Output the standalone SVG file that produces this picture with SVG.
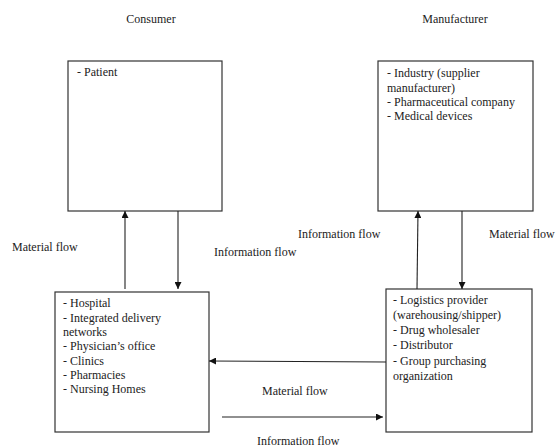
<svg xmlns="http://www.w3.org/2000/svg" width="559" height="448" viewBox="0 0 559 448">
<style>
text{font-family:"Liberation Serif","Times New Roman",serif;font-size:12px;fill:#222}
.box{fill:#fff;stroke:#333;stroke-width:1.2}
.ln{stroke:#222;stroke-width:1.1;fill:none;marker-end:url(#ah)}
</style>
<defs>
<marker id="ah" viewBox="0 0 10 10" refX="10" refY="5" markerWidth="7" markerHeight="7" markerUnits="userSpaceOnUse" orient="auto">
<path d="M0,0L10,5L0,10z" fill="#111"/>
</marker>
</defs>
<rect width="559" height="448" fill="#fff"/>
<text x="151" y="23" text-anchor="middle">Consumer</text>
<text x="455" y="23" text-anchor="middle">Manufacturer</text>
<g id="patient">
<rect class="box" x="68" y="61" width="154" height="150"/>
<text x="77" y="76">- Patient</text>
</g>
<g id="manufacturer">
<rect class="box" x="378" y="61" width="155" height="150"/>
<text x="387" y="77">- Industry (supplier</text>
<text x="387" y="91.5">manufacturer)</text>
<text x="387" y="106">- Pharmaceutical company</text>
<text x="387" y="120">- Medical devices</text>
</g>
<g id="providers">
<rect class="box" x="55" y="292" width="154" height="140"/>
<text x="63" y="307">- Hospital</text>
<text x="63" y="321.5">- Integrated delivery</text>
<text x="63" y="336">networks</text>
<text x="63" y="350">- Physician’s office</text>
<text x="63" y="364.5">- Clinics</text>
<text x="63" y="378.5">- Pharmacies</text>
<text x="63" y="393">- Nursing Homes</text>
</g>
<g id="logistics">
<rect class="box" x="386" y="289" width="146" height="143"/>
<text x="393" y="304">- Logistics provider</text>
<text x="393" y="319">(warehousing/shipper)</text>
<text x="393" y="334">- Drug wholesaler</text>
<text x="393" y="349">- Distributor</text>
<text x="393" y="365">- Group purchasing</text>
<text x="393" y="380">organization</text>
</g>
<g id="connectors">
<line class="ln" x1="125" y1="289" x2="125" y2="211"/>
<line class="ln" x1="178" y1="211" x2="178" y2="289"/>
<line class="ln" x1="417" y1="289" x2="418" y2="211"/>
<line class="ln" x1="462" y1="211" x2="462" y2="289"/>
<line class="ln" x1="386" y1="362" x2="209" y2="361"/>
<line class="ln" x1="222" y1="417" x2="383" y2="417"/>
</g>
<g id="labels">
<text x="12" y="251">Material flow</text>
<text x="214" y="256">Information flow</text>
<text x="298" y="238">Information flow</text>
<text x="489" y="238">Material flow</text>
<text x="262" y="395">Material flow</text>
<text x="257" y="445">Information flow</text>
</g>
</svg>
